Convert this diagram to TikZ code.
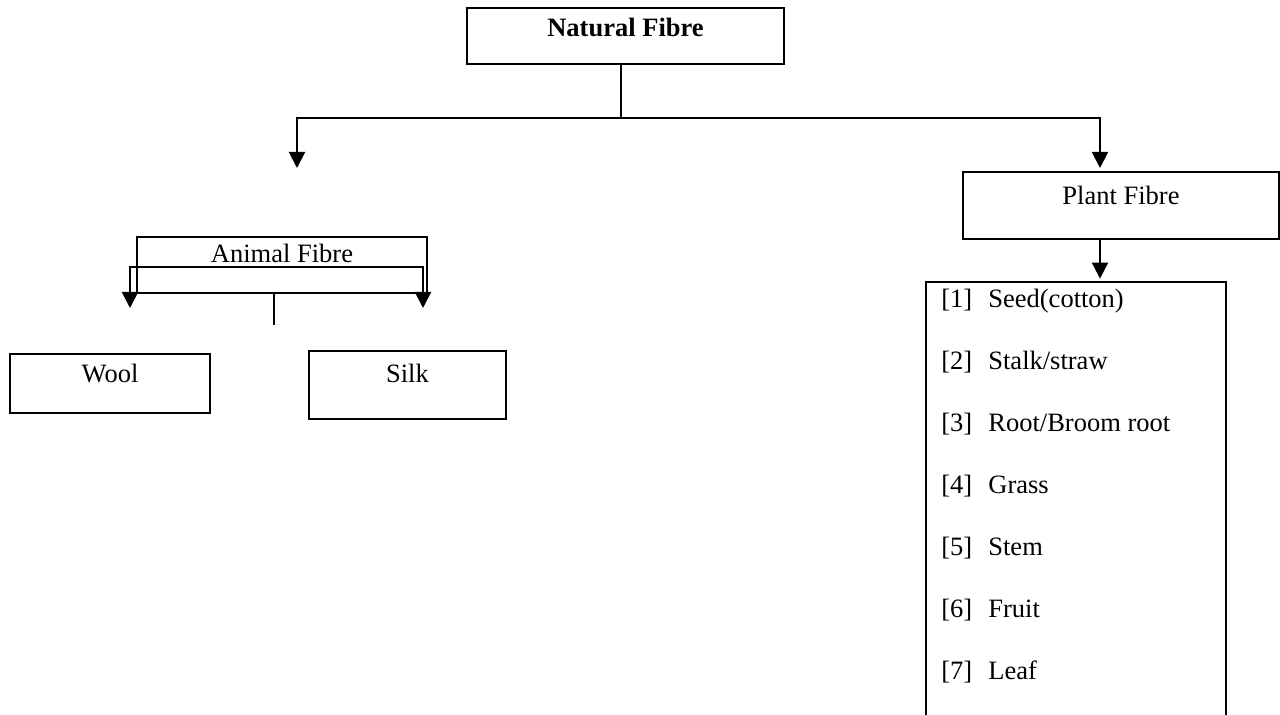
\documentclass[tikz,border=0pt]{standalone}
\usepackage{fontspec}
\setmainfont{Liberation Serif}
\usetikzlibrary{arrows.meta}
\tikzset{
  box/.style={draw, line width=1pt, inner sep=0pt, align=center},
  arr/.style={line width=1pt, -{Triangle[width=8pt,length=8pt]}},
  conn/.style={line width=1pt},
  item/.style={anchor=base west, inner sep=0pt},
}
\begin{document}
\begin{tikzpicture}[x=0.5pt,y=-0.5pt]
\fontsize{13.25pt}{16pt}\selectfont
\useasboundingbox (0,0) rectangle (1280,715);
% Natural Fibre
\node[box, minimum width=158.5pt, text height=14.5pt, text depth=13.5pt] (nat) at (625.5,36) {\bfseries Natural Fibre};
\coordinate (j1) at (621,118);
\coordinate (aend) at (297,168);
\coordinate (pin) at (1100,168);
\draw[conn] (nat.south -| j1) -- (j1);
\draw[arr] (j1) -| (aend);
\draw[arr] (j1) -| (pin);
% Plant Fibre
\node[box, minimum width=158pt, text height=16.5pt, text depth=17pt] (plant) at (1121,205.5) {Plant Fibre};
% list box
\node[inner sep=0pt, minimum width=150pt, minimum height=216.5pt] (list) at (1076,498.5) {};
\draw[line width=1pt] (list.south west) |- (list.north east) -- (list.south east);
\draw[arr] (plant.south -| pin) -- ([yshift=1.5pt]list.north -| pin);
\node[item] (i1) at (941,308) {\makebox[23.5pt][l]{[1]}Seed(cotton)};
\node[item] (i2) at (941,370) {\makebox[23.5pt][l]{[2]}Stalk/straw};
\node[item] (i3) at (941,432) {\makebox[23.5pt][l]{[3]}Root/Broom root};
\node[item] (i4) at (941,494) {\makebox[23.5pt][l]{[4]}Grass};
\node[item] (i5) at (941,556) {\makebox[23.5pt][l]{[5]}Stem};
\node[item] (i6) at (941,618) {\makebox[23.5pt][l]{[6]}Fruit};
\node[item] (i7) at (941,680) {\makebox[23.5pt][l]{[7]}Leaf};
% Animal Fibre
\node[box, minimum width=145pt, text height=13pt, text depth=15pt] (animal) at (282,265) {Animal Fibre};
\coordinate (bm) at (274,267);
\coordinate (wtip) at (130,308);
\coordinate (stip) at (423,308);
\coordinate (bstub) at (274,325);
\draw[arr] (bm) -| (wtip);
\draw[arr] (bm) -| (stip);
\draw[conn] (animal.south -| bm) -- (bstub);
% Wool and Silk
\node[box, minimum width=100pt, text height=14.5pt, text depth=15pt] (wool) at (110,383.5) {Wool};
\node[box, minimum width=98.5pt, text height=16pt, text depth=18pt] (silk) at (407.5,385) {Silk};
\end{tikzpicture}
\end{document}
